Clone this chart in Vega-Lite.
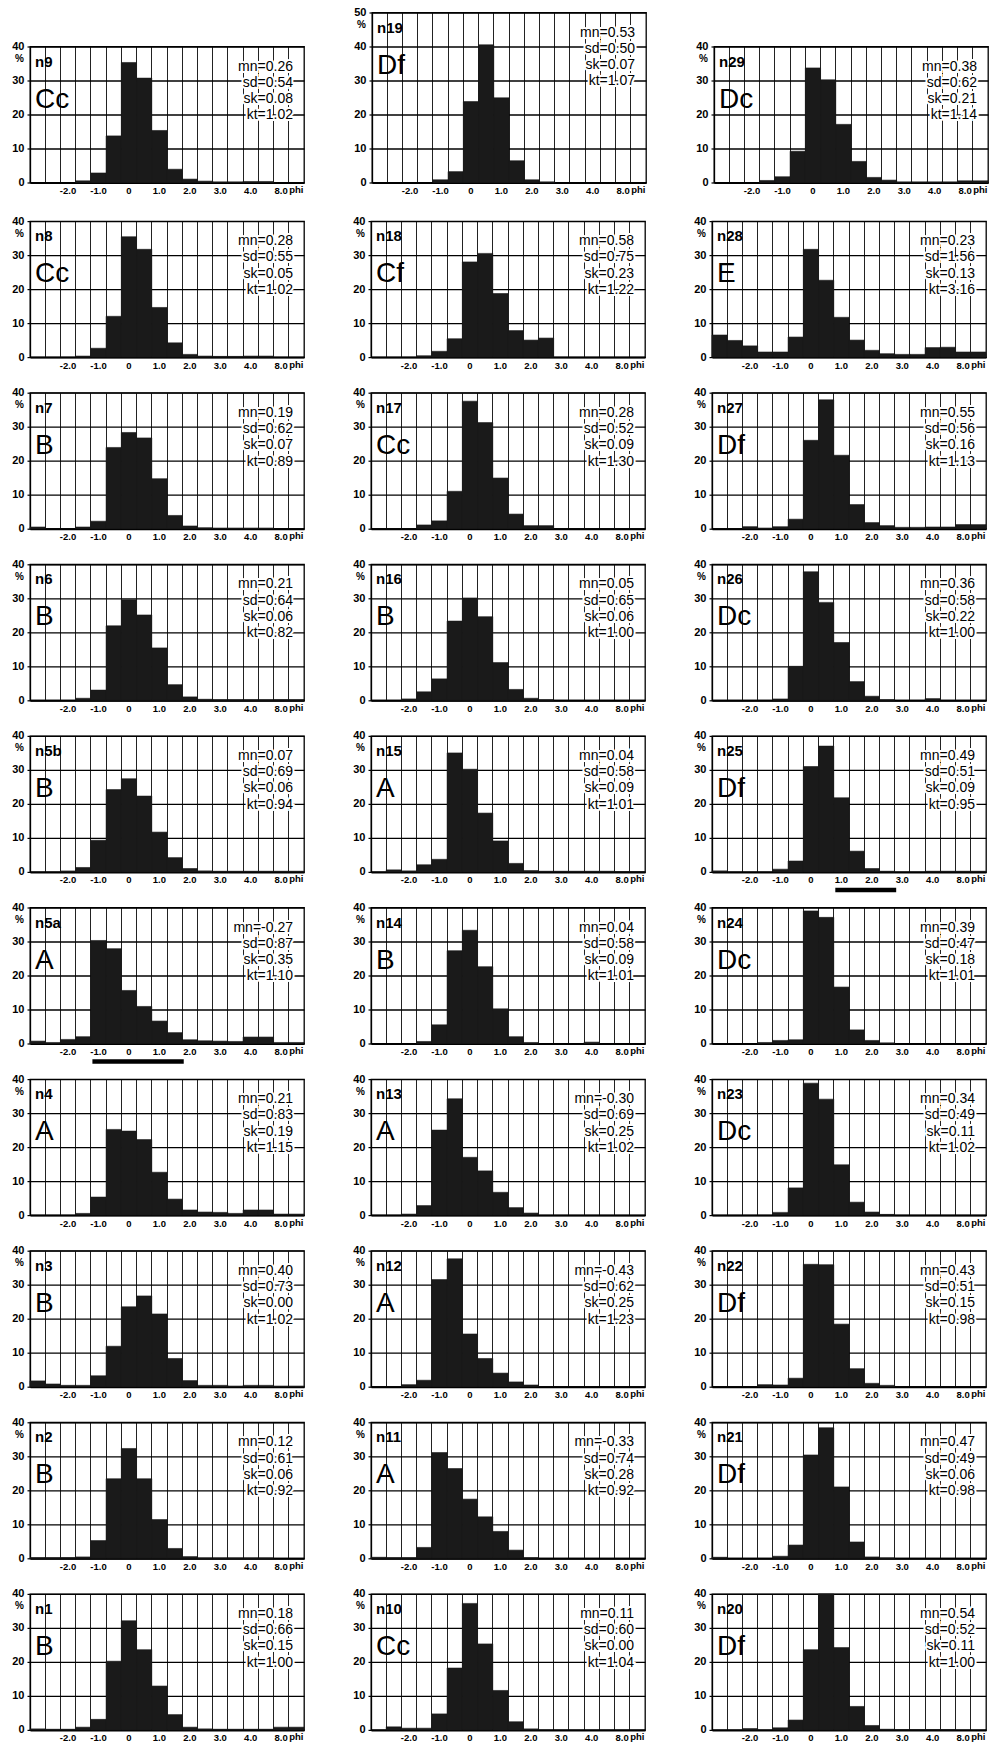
{
"$schema": "https://vega.github.io/schema/vega-lite/v6.json",
"padding": {"left": 11, "top": 5.5, "right": 0, "bottom": 0},
"datasets": {"d": [
{"p":"n9","c":"Cc","s":["mn=0.26","sd=0.54","sk=0.08","kt=1.02"],"ymax":40},
{"p":"n8","c":"Cc","s":["mn=0.28","sd=0.55","sk=0.05","kt=1.02"],"ymax":40},
{"p":"n7","c":"B","s":["mn=0.19","sd=0.62","sk=0.07","kt=0.89"],"ymax":40},
{"p":"n6","c":"B","s":["mn=0.21","sd=0.64","sk=0.06","kt=0.82"],"ymax":40},
{"p":"n5b","c":"B","s":["mn=0.07","sd=0.69","sk=0.06","kt=0.94"],"ymax":40},
{"p":"n5a","c":"A","s":["mn=-0.27","sd=0.87","sk=0.35","kt=1.10"],"ymax":40},
{"p":"n4","c":"A","s":["mn=0.21","sd=0.83","sk=0.19","kt=1.15"],"ymax":40},
{"p":"n3","c":"B","s":["mn=0.40","sd=0.73","sk=0.00","kt=1.02"],"ymax":40},
{"p":"n2","c":"B","s":["mn=0.12","sd=0.61","sk=0.06","kt=0.92"],"ymax":40},
{"p":"n1","c":"B","s":["mn=0.18","sd=0.66","sk=0.15","kt=1.00"],"ymax":40},
{"p":"n19","c":"Df","s":["mn=0.53","sd=0.50","sk=0.07","kt=1.07"],"ymax":50},
{"p":"n18","c":"Cf","s":["mn=0.58","sd=0.75","sk=0.23","kt=1.22"],"ymax":40},
{"p":"n17","c":"Cc","s":["mn=0.28","sd=0.52","sk=0.09","kt=1.30"],"ymax":40},
{"p":"n16","c":"B","s":["mn=0.05","sd=0.65","sk=0.06","kt=1.00"],"ymax":40},
{"p":"n15","c":"A","s":["mn=0.04","sd=0.58","sk=0.09","kt=1.01"],"ymax":40},
{"p":"n14","c":"B","s":["mn=0.04","sd=0.58","sk=0.09","kt=1.01"],"ymax":40},
{"p":"n13","c":"A","s":["mn=-0.30","sd=0.69","sk=0.25","kt=1.02"],"ymax":40},
{"p":"n12","c":"A","s":["mn=-0.43","sd=0.62","sk=0.25","kt=1.23"],"ymax":40},
{"p":"n11","c":"A","s":["mn=-0.33","sd=0.74","sk=0.28","kt=0.92"],"ymax":40},
{"p":"n10","c":"Cc","s":["mn=0.11","sd=0.60","sk=0.00","kt=1.04"],"ymax":40},
{"p":"n29","c":"Dc","s":["mn=0.38","sd=0.62","sk=0.21","kt=1.14"],"ymax":40},
{"p":"n28","c":"E","s":["mn=0.23","sd=1.56","sk=0.13","kt=3.16"],"ymax":40},
{"p":"n27","c":"Df","s":["mn=0.55","sd=0.56","sk=0.16","kt=1.13"],"ymax":40},
{"p":"n26","c":"Dc","s":["mn=0.36","sd=0.58","sk=0.22","kt=1.00"],"ymax":40},
{"p":"n25","c":"Df","s":["mn=0.49","sd=0.51","sk=0.09","kt=0.95"],"ymax":40},
{"p":"n24","c":"Dc","s":["mn=0.39","sd=0.47","sk=0.18","kt=1.01"],"ymax":40},
{"p":"n23","c":"Dc","s":["mn=0.34","sd=0.49","sk=0.11","kt=1.02"],"ymax":40},
{"p":"n22","c":"Df","s":["mn=0.43","sd=0.51","sk=0.15","kt=0.98"],"ymax":40},
{"p":"n21","c":"Df","s":["mn=0.47","sd=0.49","sk=0.06","kt=0.98"],"ymax":40},
{"p":"n20","c":"Df","s":["mn=0.54","sd=0.52","sk=0.11","kt=1.00"],"ymax":40},
{"p":"n5a","s0":4,"s1":10},
{"p":"n25","s0":8,"s1":12},
{"p":"n9","b":3,"v":0.5},{"p":"n9","b":4,"v":2.8},{"p":"n9","b":5,"v":13.7},{"p":"n9","b":6,"v":35.3},{"p":"n9","b":7,"v":30.7},{"p":"n9","b":8,"v":15.3},{"p":"n9","b":9,"v":3.9},{"p":"n9","b":10,"v":1.0},{"p":"n9","b":11,"v":0.4},{"p":"n9","b":12,"v":0.2},{"p":"n9","b":13,"v":0.2},{"p":"n9","b":14,"v":0.3},{"p":"n9","b":15,"v":0.3},
{"p":"n8","b":3,"v":0.3},{"p":"n8","b":4,"v":2.6},{"p":"n8","b":5,"v":12.0},{"p":"n8","b":6,"v":35.4},{"p":"n8","b":7,"v":31.7},{"p":"n8","b":8,"v":14.6},{"p":"n8","b":9,"v":4.2},{"p":"n8","b":10,"v":0.8},{"p":"n8","b":11,"v":0.3},{"p":"n8","b":12,"v":0.2},{"p":"n8","b":13,"v":0.2},{"p":"n8","b":14,"v":0.3},{"p":"n8","b":15,"v":0.3},
{"p":"n7","b":0,"v":0.5},{"p":"n7","b":3,"v":0.5},{"p":"n7","b":4,"v":2.2},{"p":"n7","b":5,"v":23.9},{"p":"n7","b":6,"v":28.3},{"p":"n7","b":7,"v":26.7},{"p":"n7","b":8,"v":14.7},{"p":"n7","b":9,"v":3.9},{"p":"n7","b":10,"v":0.8},{"p":"n7","b":11,"v":0.3},{"p":"n7","b":12,"v":0.2},{"p":"n7","b":13,"v":0.2},{"p":"n7","b":14,"v":0.2},{"p":"n7","b":15,"v":0.2},
{"p":"n6","b":3,"v":0.6},{"p":"n6","b":4,"v":3.0},{"p":"n6","b":5,"v":21.9},{"p":"n6","b":6,"v":29.6},{"p":"n6","b":7,"v":25.1},{"p":"n6","b":8,"v":15.4},{"p":"n6","b":9,"v":4.6},{"p":"n6","b":10,"v":1.0},{"p":"n6","b":11,"v":0.3},{"p":"n6","b":12,"v":0.2},{"p":"n6","b":13,"v":0.2},{"p":"n6","b":14,"v":0.2},{"p":"n6","b":15,"v":0.2},{"p":"n6","b":16,"v":0.2},{"p":"n6","b":17,"v":0.2},
{"p":"n5b","b":2,"v":0.3},{"p":"n5b","b":3,"v":1.3},{"p":"n5b","b":4,"v":9.3},{"p":"n5b","b":5,"v":24.2},{"p":"n5b","b":6,"v":27.4},{"p":"n5b","b":7,"v":22.3},{"p":"n5b","b":8,"v":11.7},{"p":"n5b","b":9,"v":4.2},{"p":"n5b","b":10,"v":1.0},{"p":"n5b","b":11,"v":0.3},{"p":"n5b","b":12,"v":0.2},{"p":"n5b","b":13,"v":0.2},{"p":"n5b","b":14,"v":0.2},{"p":"n5b","b":15,"v":0.2},{"p":"n5b","b":16,"v":0.2},{"p":"n5b","b":17,"v":0.2},
{"p":"n5a","b":0,"v":0.7},{"p":"n5a","b":1,"v":0.3},{"p":"n5a","b":2,"v":1.2},{"p":"n5a","b":3,"v":2.0},{"p":"n5a","b":4,"v":30.3},{"p":"n5a","b":5,"v":27.9},{"p":"n5a","b":6,"v":15.6},{"p":"n5a","b":7,"v":10.9},{"p":"n5a","b":8,"v":6.6},{"p":"n5a","b":9,"v":3.2},{"p":"n5a","b":10,"v":1.1},{"p":"n5a","b":11,"v":0.8},{"p":"n5a","b":12,"v":0.7},{"p":"n5a","b":13,"v":0.6},{"p":"n5a","b":14,"v":1.9},{"p":"n5a","b":15,"v":1.9},{"p":"n5a","b":16,"v":0.3},{"p":"n5a","b":17,"v":0.3},
{"p":"n4","b":3,"v":0.5},{"p":"n4","b":4,"v":5.3},{"p":"n4","b":5,"v":25.2},{"p":"n4","b":6,"v":24.7},{"p":"n4","b":7,"v":22.2},{"p":"n4","b":8,"v":12.6},{"p":"n4","b":9,"v":4.7},{"p":"n4","b":10,"v":1.5},{"p":"n4","b":11,"v":0.9},{"p":"n4","b":12,"v":0.8},{"p":"n4","b":13,"v":0.5},{"p":"n4","b":14,"v":1.5},{"p":"n4","b":15,"v":1.5},{"p":"n4","b":16,"v":0.3},{"p":"n4","b":17,"v":0.3},
{"p":"n3","b":0,"v":1.7},{"p":"n3","b":1,"v":0.8},{"p":"n3","b":2,"v":0.4},{"p":"n3","b":3,"v":0.4},{"p":"n3","b":4,"v":3.2},{"p":"n3","b":5,"v":11.9},{"p":"n3","b":6,"v":23.5},{"p":"n3","b":7,"v":26.7},{"p":"n3","b":8,"v":21.4},{"p":"n3","b":9,"v":8.3},{"p":"n3","b":10,"v":1.8},{"p":"n3","b":11,"v":0.4},{"p":"n3","b":12,"v":0.4},{"p":"n3","b":13,"v":0.2},{"p":"n3","b":14,"v":0.4},{"p":"n3","b":15,"v":0.4},{"p":"n3","b":16,"v":0.2},{"p":"n3","b":17,"v":0.2},
{"p":"n2","b":0,"v":0.2},{"p":"n2","b":1,"v":0.2},{"p":"n2","b":2,"v":0.2},{"p":"n2","b":3,"v":0.4},{"p":"n2","b":4,"v":5.2},{"p":"n2","b":5,"v":23.4},{"p":"n2","b":6,"v":32.3},{"p":"n2","b":7,"v":23.4},{"p":"n2","b":8,"v":11.4},{"p":"n2","b":9,"v":2.9},{"p":"n2","b":10,"v":0.5},{"p":"n2","b":11,"v":0.1},{"p":"n2","b":12,"v":0.1},{"p":"n2","b":13,"v":0.1},{"p":"n2","b":14,"v":0.1},{"p":"n2","b":15,"v":0.1},
{"p":"n1","b":0,"v":0.3},{"p":"n1","b":1,"v":0.2},{"p":"n1","b":2,"v":0.2},{"p":"n1","b":3,"v":0.8},{"p":"n1","b":4,"v":3.1},{"p":"n1","b":5,"v":20.2},{"p":"n1","b":6,"v":32.1},{"p":"n1","b":7,"v":23.6},{"p":"n1","b":8,"v":12.9},{"p":"n1","b":9,"v":4.5},{"p":"n1","b":10,"v":0.8},{"p":"n1","b":11,"v":0.3},{"p":"n1","b":12,"v":0.2},{"p":"n1","b":13,"v":0.2},{"p":"n1","b":14,"v":0.2},{"p":"n1","b":15,"v":0.2},{"p":"n1","b":16,"v":0.8},{"p":"n1","b":17,"v":0.8},
{"p":"n19","b":4,"v":0.8},{"p":"n19","b":5,"v":3.2},{"p":"n19","b":6,"v":23.8},{"p":"n19","b":7,"v":40.5},{"p":"n19","b":8,"v":24.9},{"p":"n19","b":9,"v":6.4},{"p":"n19","b":10,"v":0.8},{"p":"n19","b":11,"v":0.2},
{"p":"n18","b":3,"v":0.4},{"p":"n18","b":4,"v":1.7},{"p":"n18","b":5,"v":5.4},{"p":"n18","b":6,"v":28.0},{"p":"n18","b":7,"v":30.5},{"p":"n18","b":8,"v":18.7},{"p":"n18","b":9,"v":7.8},{"p":"n18","b":10,"v":5.0},{"p":"n18","b":11,"v":5.6},
{"p":"n17","b":3,"v":1.1},{"p":"n17","b":4,"v":2.3},{"p":"n17","b":5,"v":11.0},{"p":"n17","b":6,"v":37.5},{"p":"n17","b":7,"v":31.2},{"p":"n17","b":8,"v":14.9},{"p":"n17","b":9,"v":4.3},{"p":"n17","b":10,"v":0.9},{"p":"n17","b":11,"v":0.9},
{"p":"n16","b":2,"v":0.4},{"p":"n16","b":3,"v":2.5},{"p":"n16","b":4,"v":6.3},{"p":"n16","b":5,"v":23.3},{"p":"n16","b":6,"v":30.1},{"p":"n16","b":7,"v":24.6},{"p":"n16","b":8,"v":11.1},{"p":"n16","b":9,"v":3.2},{"p":"n16","b":10,"v":0.6},{"p":"n16","b":11,"v":0.2},
{"p":"n15","b":1,"v":0.6},{"p":"n15","b":2,"v":0.3},{"p":"n15","b":3,"v":2.1},{"p":"n15","b":4,"v":3.7},{"p":"n15","b":5,"v":35.0},{"p":"n15","b":6,"v":30.2},{"p":"n15","b":7,"v":17.3},{"p":"n15","b":8,"v":9.1},{"p":"n15","b":9,"v":2.5},{"p":"n15","b":10,"v":0.4},{"p":"n15","b":11,"v":0.2},{"p":"n15","b":12,"v":0.2},{"p":"n15","b":13,"v":0.2},{"p":"n15","b":14,"v":0.2},{"p":"n15","b":15,"v":0.2},{"p":"n15","b":16,"v":0.1},{"p":"n15","b":17,"v":0.1},
{"p":"n14","b":3,"v":0.6},{"p":"n14","b":4,"v":5.5},{"p":"n14","b":5,"v":27.3},{"p":"n14","b":6,"v":33.3},{"p":"n14","b":7,"v":22.6},{"p":"n14","b":8,"v":10.2},{"p":"n14","b":9,"v":2.0},{"p":"n14","b":10,"v":0.3},{"p":"n14","b":14,"v":0.4},
{"p":"n13","b":2,"v":0.3},{"p":"n13","b":3,"v":2.8},{"p":"n13","b":4,"v":25.0},{"p":"n13","b":5,"v":34.2},{"p":"n13","b":6,"v":17.0},{"p":"n13","b":7,"v":13.0},{"p":"n13","b":8,"v":6.7},{"p":"n13","b":9,"v":2.2},{"p":"n13","b":10,"v":0.6},
{"p":"n12","b":2,"v":0.6},{"p":"n12","b":3,"v":1.9},{"p":"n12","b":4,"v":31.5},{"p":"n12","b":5,"v":37.6},{"p":"n12","b":6,"v":15.5},{"p":"n12","b":7,"v":8.3},{"p":"n12","b":8,"v":4.0},{"p":"n12","b":9,"v":1.4},{"p":"n12","b":10,"v":0.5},
{"p":"n11","b":0,"v":0.3},{"p":"n11","b":1,"v":0.2},{"p":"n11","b":2,"v":0.2},{"p":"n11","b":3,"v":3.2},{"p":"n11","b":4,"v":31.1},{"p":"n11","b":5,"v":26.4},{"p":"n11","b":6,"v":17.4},{"p":"n11","b":7,"v":12.2},{"p":"n11","b":8,"v":7.9},{"p":"n11","b":9,"v":2.4},{"p":"n11","b":10,"v":0.2},
{"p":"n10","b":1,"v":0.9},{"p":"n10","b":2,"v":0.5},{"p":"n10","b":3,"v":0.5},{"p":"n10","b":4,"v":4.7},{"p":"n10","b":5,"v":18.2},{"p":"n10","b":6,"v":37.2},{"p":"n10","b":7,"v":25.3},{"p":"n10","b":8,"v":11.6},{"p":"n10","b":9,"v":2.4},{"p":"n10","b":10,"v":0.3},
{"p":"n29","b":3,"v":0.6},{"p":"n29","b":4,"v":1.7},{"p":"n29","b":5,"v":9.2},{"p":"n29","b":6,"v":33.7},{"p":"n29","b":7,"v":30.2},{"p":"n29","b":8,"v":17.1},{"p":"n29","b":9,"v":6.2},{"p":"n29","b":10,"v":1.5},{"p":"n29","b":11,"v":0.7},{"p":"n29","b":12,"v":0.2},{"p":"n29","b":13,"v":0.2},{"p":"n29","b":14,"v":0.2},{"p":"n29","b":15,"v":0.2},{"p":"n29","b":16,"v":0.5},{"p":"n29","b":17,"v":0.5},
{"p":"n28","b":0,"v":6.5},{"p":"n28","b":1,"v":4.9},{"p":"n28","b":2,"v":3.3},{"p":"n28","b":3,"v":1.5},{"p":"n28","b":4,"v":1.5},{"p":"n28","b":5,"v":5.9},{"p":"n28","b":6,"v":31.7},{"p":"n28","b":7,"v":22.6},{"p":"n28","b":8,"v":11.7},{"p":"n28","b":9,"v":5.0},{"p":"n28","b":10,"v":2.0},{"p":"n28","b":11,"v":1.0},{"p":"n28","b":12,"v":0.8},{"p":"n28","b":13,"v":0.8},{"p":"n28","b":14,"v":2.8},{"p":"n28","b":15,"v":2.9},{"p":"n28","b":16,"v":1.5},{"p":"n28","b":17,"v":1.5},
{"p":"n27","b":2,"v":0.6},{"p":"n27","b":3,"v":0.2},{"p":"n27","b":4,"v":0.6},{"p":"n27","b":5,"v":2.8},{"p":"n27","b":6,"v":26.0},{"p":"n27","b":7,"v":37.9},{"p":"n27","b":8,"v":21.6},{"p":"n27","b":9,"v":7.1},{"p":"n27","b":10,"v":1.8},{"p":"n27","b":11,"v":0.9},{"p":"n27","b":12,"v":0.4},{"p":"n27","b":13,"v":0.4},{"p":"n27","b":14,"v":0.5},{"p":"n27","b":15,"v":0.5},{"p":"n27","b":16,"v":1.2},{"p":"n27","b":17,"v":1.2},
{"p":"n26","b":4,"v":0.4},{"p":"n26","b":5,"v":10.0},{"p":"n26","b":6,"v":37.8},{"p":"n26","b":7,"v":28.8},{"p":"n26","b":8,"v":17.0},{"p":"n26","b":9,"v":5.5},{"p":"n26","b":10,"v":1.2},{"p":"n26","b":11,"v":0.2},{"p":"n26","b":14,"v":0.5},
{"p":"n25","b":0,"v":0.3},{"p":"n25","b":4,"v":0.8},{"p":"n25","b":5,"v":3.2},{"p":"n25","b":6,"v":31.0},{"p":"n25","b":7,"v":37.0},{"p":"n25","b":8,"v":21.8},{"p":"n25","b":9,"v":6.1},{"p":"n25","b":10,"v":1.0},{"p":"n25","b":11,"v":0.2},{"p":"n25","b":14,"v":0.2},{"p":"n25","b":15,"v":0.2},{"p":"n25","b":16,"v":0.2},{"p":"n25","b":17,"v":0.2},
{"p":"n24","b":3,"v":0.3},{"p":"n24","b":4,"v":0.9},{"p":"n24","b":5,"v":1.1},{"p":"n24","b":6,"v":39.0},{"p":"n24","b":7,"v":37.1},{"p":"n24","b":8,"v":16.6},{"p":"n24","b":9,"v":4.0},{"p":"n24","b":10,"v":0.9},{"p":"n24","b":11,"v":0.2},
{"p":"n23","b":4,"v":0.8},{"p":"n23","b":5,"v":8.0},{"p":"n23","b":6,"v":38.8},{"p":"n23","b":7,"v":34.1},{"p":"n23","b":8,"v":14.8},{"p":"n23","b":9,"v":3.8},{"p":"n23","b":10,"v":0.9},{"p":"n23","b":11,"v":0.2},
{"p":"n22","b":3,"v":0.6},{"p":"n22","b":4,"v":0.5},{"p":"n22","b":5,"v":2.5},{"p":"n22","b":6,"v":36.0},{"p":"n22","b":7,"v":35.9},{"p":"n22","b":8,"v":18.4},{"p":"n22","b":9,"v":5.3},{"p":"n22","b":10,"v":1.0},{"p":"n22","b":11,"v":0.4},
{"p":"n21","b":0,"v":0.3},{"p":"n21","b":4,"v":0.6},{"p":"n21","b":5,"v":3.9},{"p":"n21","b":6,"v":30.4},{"p":"n21","b":7,"v":38.4},{"p":"n21","b":8,"v":21.0},{"p":"n21","b":9,"v":4.8},{"p":"n21","b":10,"v":0.4},{"p":"n21","b":11,"v":0.1},
{"p":"n20","b":2,"v":0.4},{"p":"n20","b":4,"v":0.6},{"p":"n20","b":5,"v":2.9},{"p":"n20","b":6,"v":23.6},{"p":"n20","b":7,"v":40.0},{"p":"n20","b":8,"v":24.2},{"p":"n20","b":9,"v":6.9},{"p":"n20","b":10,"v":1.3},{"p":"n20","b":11,"v":0.2},{"p":"n20","b":12,"v":0.1},{"p":"n20","b":13,"v":0.1},{"p":"n20","b":14,"v":0.1},{"p":"n20","b":15,"v":0.1}
]},
"data": {"name": "d"},
"spacing": -2.4,
"vconcat": [
 {"spacing": 48, "hconcat": [
  {"bounds": "flush", "spacing": 0, "vconcat": [
   {"width": 274, "height": 34, "view": {"stroke": null, "fill": "#ffffff"}, "data": {"values": []}, "mark": "rule", "encoding": {}},
   {"width": 274, "height": 136, "transform": [{"filter": "datum.p == 'n9'"}],
    "layer": [
     {"transform":[{"filter":"isValid(datum.v)"}],"mark":{"type":"bar","color":"#1a1a1a","stroke":"#1a1a1a","strokeWidth":0.6},
      "encoding":{"x":{"field":"b","type":"ordinal","scale":{"domain":[0,1,2,3,4,5,6,7,8,9,10,11,12,13,14,15,16,17],"paddingInner":0,"paddingOuter":0},"axis":{"title":"phi","bandPosition":0,"titleX":273,"titleY":10,"titleAlign":"right","titleBaseline":"alphabetic","labelExpr":"datum.value==2?'-2.0':datum.value==4?'-1.0':datum.value==6?'0':datum.value==8?'1.0':datum.value==10?'2.0':datum.value==12?'3.0':datum.value==14?'4.0':datum.value==16?'8.0':''"}},
       "y":{"field":"v","type":"quantitative","scale":{"domain":[0,40],"nice":false},"axis":{"title":"%","values":[0,10,20,30,40],"tickCount":5,"titleX":-11,"titleY":15}}}},
     {"transform":[{"filter":"isValid(datum.c)"}],"mark":{"type":"text","align":"left","baseline":"alphabetic","dx":-2.6,"dy":20,"fontSize":15,"fontWeight":"bold"},
      "encoding":{"x":{"datum":0,"type":"ordinal"},"y":{"field":"ymax","type":"quantitative"},"text":{"field":"p"}}},
     {"transform":[{"filter":"isValid(datum.c)"}],"mark":{"type":"text","align":"left","baseline":"alphabetic","dx":-2.6,"dy":61,"fontSize":28},
      "encoding":{"x":{"datum":0,"type":"ordinal"},"y":{"field":"ymax","type":"quantitative"},"text":{"field":"c"}}},
     {"transform":[{"filter":"isValid(datum.c)"}],"mark":{"type":"text","align":"right","baseline":"alphabetic","dx":-3.4,"dy":24,"fontSize":14,"lineHeight":16.3,"stroke":"#ffffff","strokeWidth":4,"color":"#ffffff"},
      "encoding":{"x":{"datum":17,"type":"ordinal"},"y":{"field":"ymax","type":"quantitative"},"text":{"field":"s"}}},
     {"transform":[{"filter":"isValid(datum.c)"}],"mark":{"type":"text","align":"right","baseline":"alphabetic","dx":-3.4,"dy":24,"fontSize":14,"lineHeight":16.3},
      "encoding":{"x":{"datum":17,"type":"ordinal"},"y":{"field":"ymax","type":"quantitative"},"text":{"field":"s"}}}
    ]}
  ]},
  {"width": 274, "height": 170, "transform": [{"filter": "datum.p == 'n19'"}],
   "layer": [
    {"transform":[{"filter":"isValid(datum.v)"}],"mark":{"type":"bar","color":"#1a1a1a","stroke":"#1a1a1a","strokeWidth":0.6},
     "encoding":{"x":{"field":"b","type":"ordinal","scale":{"domain":[0,1,2,3,4,5,6,7,8,9,10,11,12,13,14,15,16,17],"paddingInner":0,"paddingOuter":0},"axis":{"title":"phi","bandPosition":0,"titleX":273,"titleY":10,"titleAlign":"right","titleBaseline":"alphabetic","labelExpr":"datum.value==2?'-2.0':datum.value==4?'-1.0':datum.value==6?'0':datum.value==8?'1.0':datum.value==10?'2.0':datum.value==12?'3.0':datum.value==14?'4.0':datum.value==16?'8.0':''"}},
      "y":{"field":"v","type":"quantitative","scale":{"domain":[0,50],"nice":false},"axis":{"title":"%","values":[0,10,20,30,40,50],"tickCount":6,"titleX":-11,"titleY":15}}}},
    {"transform":[{"filter":"isValid(datum.c)"}],"mark":{"type":"text","align":"left","baseline":"alphabetic","dx":-2.6,"dy":20,"fontSize":15,"fontWeight":"bold"},
     "encoding":{"x":{"datum":0,"type":"ordinal","scale":{"domain":[0,1,2,3,4,5,6,7,8,9,10,11,12,13,14,15,16,17],"paddingInner":0,"paddingOuter":0},"axis":{"title":"phi","bandPosition":0,"titleX":273,"titleY":10,"titleAlign":"right","titleBaseline":"alphabetic","labelExpr":"datum.value==2?'-2.0':datum.value==4?'-1.0':datum.value==6?'0':datum.value==8?'1.0':datum.value==10?'2.0':datum.value==12?'3.0':datum.value==14?'4.0':datum.value==16?'8.0':''"}},
      "y":{"field":"ymax","type":"quantitative","scale":{"domain":[0,50],"nice":false},"axis":{"title":"%","values":[0,10,20,30,40,50],"tickCount":6,"titleX":-11,"titleY":15}},"text":{"field":"p"}}},
    {"transform":[{"filter":"isValid(datum.c)"}],"mark":{"type":"text","align":"left","baseline":"alphabetic","dx":-2.6,"dy":61,"fontSize":28},
     "encoding":{"x":{"datum":0,"type":"ordinal","scale":{"domain":[0,1,2,3,4,5,6,7,8,9,10,11,12,13,14,15,16,17],"paddingInner":0,"paddingOuter":0},"axis":{"title":"phi","bandPosition":0,"titleX":273,"titleY":10,"titleAlign":"right","titleBaseline":"alphabetic","labelExpr":"datum.value==2?'-2.0':datum.value==4?'-1.0':datum.value==6?'0':datum.value==8?'1.0':datum.value==10?'2.0':datum.value==12?'3.0':datum.value==14?'4.0':datum.value==16?'8.0':''"}},
      "y":{"field":"ymax","type":"quantitative","scale":{"domain":[0,50],"nice":false},"axis":{"title":"%","values":[0,10,20,30,40,50],"tickCount":6,"titleX":-11,"titleY":15}},"text":{"field":"c"}}},
    {"transform":[{"filter":"isValid(datum.c)"}],"mark":{"type":"text","align":"right","baseline":"alphabetic","dx":-3.4,"dy":24,"fontSize":14,"lineHeight":16.3,"stroke":"#ffffff","strokeWidth":4,"color":"#ffffff"},
     "encoding":{"x":{"datum":17,"type":"ordinal","scale":{"domain":[0,1,2,3,4,5,6,7,8,9,10,11,12,13,14,15,16,17],"paddingInner":0,"paddingOuter":0},"axis":{"title":"phi","bandPosition":0,"titleX":273,"titleY":10,"titleAlign":"right","titleBaseline":"alphabetic","labelExpr":"datum.value==2?'-2.0':datum.value==4?'-1.0':datum.value==6?'0':datum.value==8?'1.0':datum.value==10?'2.0':datum.value==12?'3.0':datum.value==14?'4.0':datum.value==16?'8.0':''"}},
      "y":{"field":"ymax","type":"quantitative","scale":{"domain":[0,50],"nice":false},"axis":{"title":"%","values":[0,10,20,30,40,50],"tickCount":6,"titleX":-11,"titleY":15}},"text":{"field":"s"}}},
    {"transform":[{"filter":"isValid(datum.c)"}],"mark":{"type":"text","align":"right","baseline":"alphabetic","dx":-3.4,"dy":24,"fontSize":14,"lineHeight":16.3},
     "encoding":{"x":{"datum":17,"type":"ordinal","scale":{"domain":[0,1,2,3,4,5,6,7,8,9,10,11,12,13,14,15,16,17],"paddingInner":0,"paddingOuter":0},"axis":{"title":"phi","bandPosition":0,"titleX":273,"titleY":10,"titleAlign":"right","titleBaseline":"alphabetic","labelExpr":"datum.value==2?'-2.0':datum.value==4?'-1.0':datum.value==6?'0':datum.value==8?'1.0':datum.value==10?'2.0':datum.value==12?'3.0':datum.value==14?'4.0':datum.value==16?'8.0':''"}},
      "y":{"field":"ymax","type":"quantitative","scale":{"domain":[0,50],"nice":false},"axis":{"title":"%","values":[0,10,20,30,40,50],"tickCount":6,"titleX":-11,"titleY":15}},"text":{"field":"s"}}}
   ]},
  {"bounds": "flush", "spacing": 0, "vconcat": [
   {"width": 274, "height": 34, "view": {"stroke": null, "fill": "#ffffff"}, "data": {"values": []}, "mark": "rule", "encoding": {}},
   {"width": 274, "height": 136, "transform": [{"filter": "datum.p == 'n29'"}],
    "layer": [
     {"transform":[{"filter":"isValid(datum.v)"}],"mark":{"type":"bar","color":"#1a1a1a","stroke":"#1a1a1a","strokeWidth":0.6},
      "encoding":{"x":{"field":"b","type":"ordinal","scale":{"domain":[0,1,2,3,4,5,6,7,8,9,10,11,12,13,14,15,16,17],"paddingInner":0,"paddingOuter":0},"axis":{"title":"phi","bandPosition":0,"titleX":273,"titleY":10,"titleAlign":"right","titleBaseline":"alphabetic","labelExpr":"datum.value==2?'-2.0':datum.value==4?'-1.0':datum.value==6?'0':datum.value==8?'1.0':datum.value==10?'2.0':datum.value==12?'3.0':datum.value==14?'4.0':datum.value==16?'8.0':''"}},
       "y":{"field":"v","type":"quantitative","scale":{"domain":[0,40],"nice":false},"axis":{"title":"%","values":[0,10,20,30,40],"tickCount":5,"titleX":-11,"titleY":15}}}},
     {"transform":[{"filter":"isValid(datum.c)"}],"mark":{"type":"text","align":"left","baseline":"alphabetic","dx":-2.6,"dy":20,"fontSize":15,"fontWeight":"bold"},
      "encoding":{"x":{"datum":0,"type":"ordinal"},"y":{"field":"ymax","type":"quantitative"},"text":{"field":"p"}}},
     {"transform":[{"filter":"isValid(datum.c)"}],"mark":{"type":"text","align":"left","baseline":"alphabetic","dx":-2.6,"dy":61,"fontSize":28},
      "encoding":{"x":{"datum":0,"type":"ordinal"},"y":{"field":"ymax","type":"quantitative"},"text":{"field":"c"}}},
     {"transform":[{"filter":"isValid(datum.c)"}],"mark":{"type":"text","align":"right","baseline":"alphabetic","dx":-3.4,"dy":24,"fontSize":14,"lineHeight":16.3,"stroke":"#ffffff","strokeWidth":4,"color":"#ffffff"},
      "encoding":{"x":{"datum":17,"type":"ordinal"},"y":{"field":"ymax","type":"quantitative"},"text":{"field":"s"}}},
     {"transform":[{"filter":"isValid(datum.c)"}],"mark":{"type":"text","align":"right","baseline":"alphabetic","dx":-3.4,"dy":24,"fontSize":14,"lineHeight":16.3},
      "encoding":{"x":{"datum":17,"type":"ordinal"},"y":{"field":"ymax","type":"quantitative"},"text":{"field":"s"}}}
    ]}
  ]}
 ]},
 {"transform": [{"filter": "indexof(['n9','n19','n29'], datum.p) < 0"}],
  "facet": {"field": "p", "type": "nominal", "title": null, "header": {"labels": false, "title": null, "labelExpr": "''"},
   "sort": ["n8","n18","n28","n7","n17","n27","n6","n16","n26","n5b","n15","n25","n5a","n14","n24","n4","n13","n23","n3","n12","n22","n2","n11","n21","n1","n10","n20"]},
  "columns": 3,
  "bounds": "flush",
  "spacing": {"row": 35.6, "column": 67},
  "resolve": {"scale": {"x": "independent", "y": "independent"}, "axis": {"x": "independent", "y": "independent"}},
  "spec": {"width": 274, "height": 136,
   "layer": [
    {"transform":[{"filter":"isValid(datum.v)"}],"mark":{"type":"bar","color":"#1a1a1a","stroke":"#1a1a1a","strokeWidth":0.6},
     "encoding":{"x":{"field":"b","type":"ordinal","scale":{"domain":[0,1,2,3,4,5,6,7,8,9,10,11,12,13,14,15,16,17],"paddingInner":0,"paddingOuter":0},"axis":{"title":"phi","bandPosition":0,"titleX":273,"titleY":10,"titleAlign":"right","titleBaseline":"alphabetic","labelExpr":"datum.value==2?'-2.0':datum.value==4?'-1.0':datum.value==6?'0':datum.value==8?'1.0':datum.value==10?'2.0':datum.value==12?'3.0':datum.value==14?'4.0':datum.value==16?'8.0':''"}},
      "y":{"field":"v","type":"quantitative","scale":{"domain":[0,40],"nice":false},"axis":{"title":"%","values":[0,10,20,30,40],"tickCount":5,"titleX":-11,"titleY":15}}}},
    {"transform":[{"filter":"isValid(datum.c)"}],"mark":{"type":"text","align":"left","baseline":"alphabetic","dx":-2.6,"dy":20,"fontSize":15,"fontWeight":"bold"},
     "encoding":{"x":{"datum":0,"type":"ordinal"},"y":{"field":"ymax","type":"quantitative"},"text":{"field":"p"}}},
    {"transform":[{"filter":"isValid(datum.c)"}],"mark":{"type":"text","align":"left","baseline":"alphabetic","dx":-2.6,"dy":61,"fontSize":28},
     "encoding":{"x":{"datum":0,"type":"ordinal"},"y":{"field":"ymax","type":"quantitative"},"text":{"field":"c"}}},
    {"transform":[{"filter":"isValid(datum.c)"}],"mark":{"type":"text","align":"right","baseline":"alphabetic","dx":-3.4,"dy":24,"fontSize":14,"lineHeight":16.3,"stroke":"#ffffff","strokeWidth":4,"color":"#ffffff"},
     "encoding":{"x":{"datum":17,"type":"ordinal"},"y":{"field":"ymax","type":"quantitative"},"text":{"field":"s"}}},
    {"transform":[{"filter":"isValid(datum.c)"}],"mark":{"type":"text","align":"right","baseline":"alphabetic","dx":-3.4,"dy":24,"fontSize":14,"lineHeight":16.3},
     "encoding":{"x":{"datum":17,"type":"ordinal"},"y":{"field":"ymax","type":"quantitative"},"text":{"field":"s"}}},
    {"transform":[{"filter":"isValid(datum.s0)"}],"mark":{"type":"rule","strokeWidth":4.5,"yOffset":18,"color":"#000"},
     "encoding":{"x":{"field":"s0","type":"ordinal","bandPosition":0.1},"x2":{"field":"s1","bandPosition":0.1},"y":{"datum":0,"type":"quantitative"}}}
   ]}
 }
],
"config": {
 "font": "Liberation Sans",
 "view": {"stroke": "#000", "strokeWidth": 1.3},
 "text": {"color": "#000"},
 "header": {"labels": false, "title": null},
 "axisX": {"ticks": false, "tickSize": 0, "grid": true, "gridColor": "#222", "gridWidth": 1, "gridOpacity": 1, "domainColor": "#000", "domainWidth": 2, "labelAngle": 0, "labelFontSize": 9.5, "labelFontWeight": "bold", "labelColor": "#000", "labelPadding": 3, "labelOverlap": false, "labelBound": false, "titleFontSize": 9.5, "titleFontWeight": "bold", "titleColor": "#000", "titleAngle": 0, "titlePadding": 0},
 "axisY": {"ticks": true, "tickSize": 3, "tickCount": 5, "tickColor": "#000", "tickWidth": 1.2, "grid": true, "gridColor": "#000", "gridWidth": 1.3, "gridOpacity": 1, "domainColor": "#000", "domainWidth": 1.3, "labelFontSize": 11, "labelFontWeight": "bold", "labelColor": "#000", "labelPadding": 3, "labelOverlap": false, "titleFontSize": 10, "titleFontWeight": "bold", "titleColor": "#000", "titleAngle": 0, "titleAlign": "center", "titleBaseline": "alphabetic"}
}
}
